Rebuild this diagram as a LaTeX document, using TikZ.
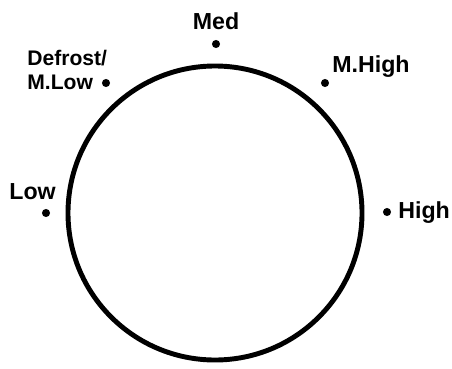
\documentclass[tikz,border=0pt]{standalone}
\usepackage{fontspec}
\setmainfont{Liberation Sans}
\usetikzlibrary{arrows}

\tikzset{
  dot/.style={circle,fill=black,draw=none,inner sep=0pt,minimum size=4.6pt},
  lbl/.style={inner sep=0pt,font=\fontsize{13.2}{15}\selectfont\bfseries},
  smalllbl/.style={inner sep=0pt,font=\fontsize{12}{13.6}\selectfont\bfseries}
}

\begin{document}
\begin{tikzpicture}[line cap=round,line join=round,x=0.02cm,y=-0.02cm]
\useasboundingbox (0,0) rectangle (452,368);
%dial
\draw [line width=2.8pt] (215,213) circle (147);

\node[dot] (med) at (216,44) {};
\node[dot] (mlow) at (106,83) {};
\node[dot] (mhigh) at (325,83) {};
\node[dot] (low) at (46,213) {};
\node[dot] (high) at (387,212) {};

\node[lbl,anchor=base] (medtext) at (216,30) {Med};
\node[smalllbl,anchor=north west,align=left] (mlowtext) at (27,50) {Defrost/\\M.Low};
\node[lbl,anchor=base west] (mhightext) at (332,72) {M.High};
\node[lbl,anchor=base west] (lowtext) at (9,199) {Low};
\node[lbl,anchor=base west] (hightext) at (398,218) {High};
\end{tikzpicture}
\end{document}
